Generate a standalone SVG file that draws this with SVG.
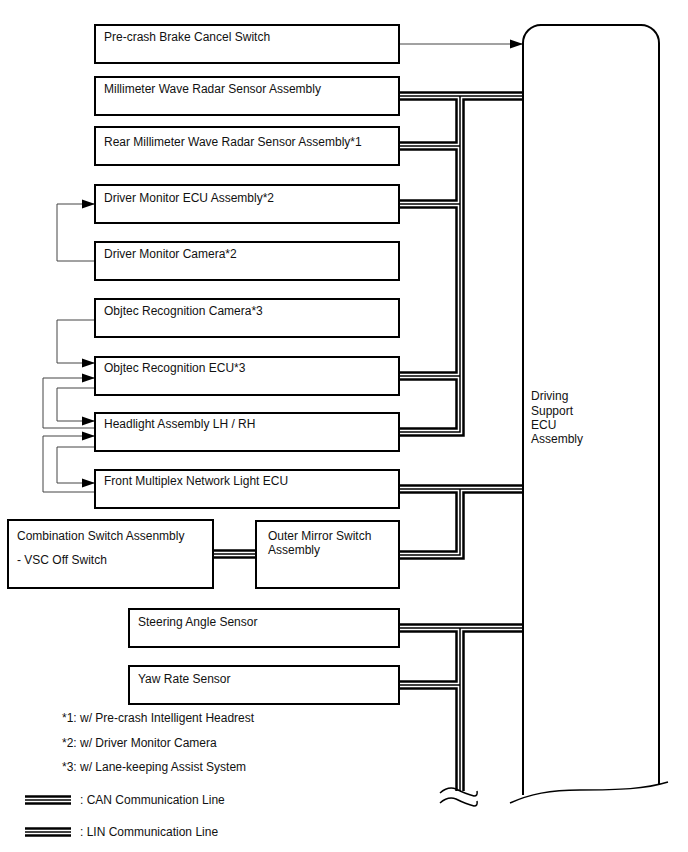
<svg xmlns="http://www.w3.org/2000/svg" xmlns:xlink="http://www.w3.org/1999/xlink" width="688" height="852" viewBox="0 0 688 852">
<style>
  .box { fill: #fff; stroke: #000; stroke-width: 2; }
  .t { font-family: "Liberation Sans", Arial, sans-serif; font-size: 12px; fill: #111; }
  .b1 { fill: none; stroke: #000; stroke-width: 9.5; stroke-linejoin: miter; }
  .b2 { fill: none; stroke: #fff; stroke-width: 4.5; stroke-linejoin: miter; }
  .b3 { fill: none; stroke: #000; stroke-width: 1.5; stroke-linejoin: miter; }
  .arr { fill: none; stroke: #444; stroke-width: 1; marker-end: url(#ah); }
  .brk { fill: none; stroke: #000; stroke-width: 1.5; }
</style>
<defs>
  <marker id="ah" markerUnits="userSpaceOnUse" markerWidth="14" markerHeight="10" refX="13" refY="5" orient="auto">
    <path d="M0,0.5 L13,5 L0,9.5 Z" fill="#000"/>
  </marker>
  <g id="buses">
    <path d="M399 96 H523"/>
    <path d="M460 96 V432 H399"/>
    <path d="M460 146 H399"/>
    <path d="M460 204 H399"/>
    <path d="M460 376 H399"/>
    <path d="M399 489 H523"/>
    <path d="M460 489 V555 H399"/>
    <path d="M213 554 H256"/>
    <path d="M399 628 H523"/>
    <path d="M460 628 V791"/>
    <path d="M460 685 H399"/>
  </g>
  <path id="leg1" d="M25 800 H71"/>
  <path id="leg2" d="M25 832 H71"/>
</defs>

<g id="connectors">
  <use xlink:href="#buses" class="b1"/>
  <use xlink:href="#buses" class="b2"/>
  <use xlink:href="#buses" class="b3"/>
  <path class="arr" d="M399 44 H523"/>
  <path class="arr" d="M95 261 H57 V204 H95"/>
  <path class="arr" d="M95 320 H57 V363 H95"/>
  <path class="arr" d="M95 428 H43 V378 H95"/>
  <path class="arr" d="M95 388 H57 V421 H95"/>
  <path class="arr" d="M95 492 H43 V436 H95"/>
  <path class="arr" d="M95 447 H57 V483 H95"/>
  <path class="brk" d="M440 793 Q448 786 456 789 Q466 794 474 796 Q478 796 477 791"/>
  <path class="brk" d="M440 803 Q448 796 456 799 Q466 804 474 806 Q478 806 477 801"/>
</g>

<g id="ecu">
  <path d="M523 795 V43 A18 18 0 0 1 541 25 H641 A18 18 0 0 1 659 43 V785" fill="#fff" stroke="#000" stroke-width="2"/>
  <path d="M510 803 C530 794 550 790 580 790 C620 790 645 789 668 782" fill="none" stroke="#000" stroke-width="1.5"/>
  <text class="t" x="531" y="400">Driving</text>
  <text class="t" x="531" y="415">Support</text>
  <text class="t" x="531" y="429">ECU</text>
  <text class="t" x="531" y="443">Assembly</text>
</g>

<g id="precrash"><rect class="box" x="95" y="25" width="304" height="38"/><text class="t" x="104" y="41">Pre-crash Brake Cancel Switch</text></g>
<g id="mmwave"><rect class="box" x="95" y="77" width="304" height="38"/><text class="t" x="104" y="93">Millimeter Wave Radar Sensor Assembly</text></g>
<g id="rearmm"><rect class="box" x="95" y="127" width="304" height="38"/><text class="t" x="104" y="146">Rear Millimeter Wave Radar Sensor Assembly*1</text></g>
<g id="dmecu"><rect class="box" x="95" y="185" width="304" height="38"/><text class="t" x="104" y="202">Driver Monitor ECU Assembly*2</text></g>
<g id="dmcam"><rect class="box" x="95" y="242" width="304" height="38"/><text class="t" x="104" y="258">Driver Monitor Camera*2</text></g>
<g id="objcam"><rect class="box" x="95" y="299" width="304" height="38"/><text class="t" x="104" y="315">Objtec Recognition Camera*3</text></g>
<g id="objecu"><rect class="box" x="95" y="357" width="304" height="38"/><text class="t" x="104" y="372">Objtec Recognition ECU*3</text></g>
<g id="headlight"><rect class="box" x="95" y="413" width="304" height="38"/><text class="t" x="104" y="428">Headlight Assembly LH / RH</text></g>
<g id="frontmux"><rect class="box" x="95" y="470" width="304" height="38"/><text class="t" x="104" y="485">Front Multiplex Network Light ECU</text></g>
<g id="combsw"><rect class="box" x="8" y="520" width="205" height="68"/><text class="t" x="17" y="540">Combination Switch Assenmbly</text><text class="t" x="17" y="564">- VSC Off Switch</text></g>
<g id="mirrorsw"><rect class="box" x="256" y="521" width="143" height="67"/><text class="t" x="268" y="540">Outer Mirror Switch</text><text class="t" x="268" y="554">Assembly</text></g>
<g id="steer"><rect class="box" x="129" y="609" width="270" height="38"/><text class="t" x="138" y="626">Steering Angle Sensor</text></g>
<g id="yaw"><rect class="box" x="129" y="666" width="270" height="38"/><text class="t" x="138" y="683">Yaw Rate Sensor</text></g>

<g id="notes">
  <text class="t" x="62" y="722">*1: w/ Pre-crash Intelligent Headrest</text>
  <text class="t" x="62" y="747">*2: w/ Driver Monitor Camera</text>
  <text class="t" x="62" y="771">*3: w/ Lane-keeping Assist System</text>
</g>
<g id="legend">
  <use xlink:href="#leg1" class="b1"/><use xlink:href="#leg1" class="b2"/><use xlink:href="#leg1" class="b3"/>
  <use xlink:href="#leg2" class="b1"/><use xlink:href="#leg2" class="b2"/><use xlink:href="#leg2" class="b3"/>
  <text class="t" x="80" y="804">: CAN Communication Line</text>
  <text class="t" x="80" y="836">: LIN Communication Line</text>
</g>
</svg>
